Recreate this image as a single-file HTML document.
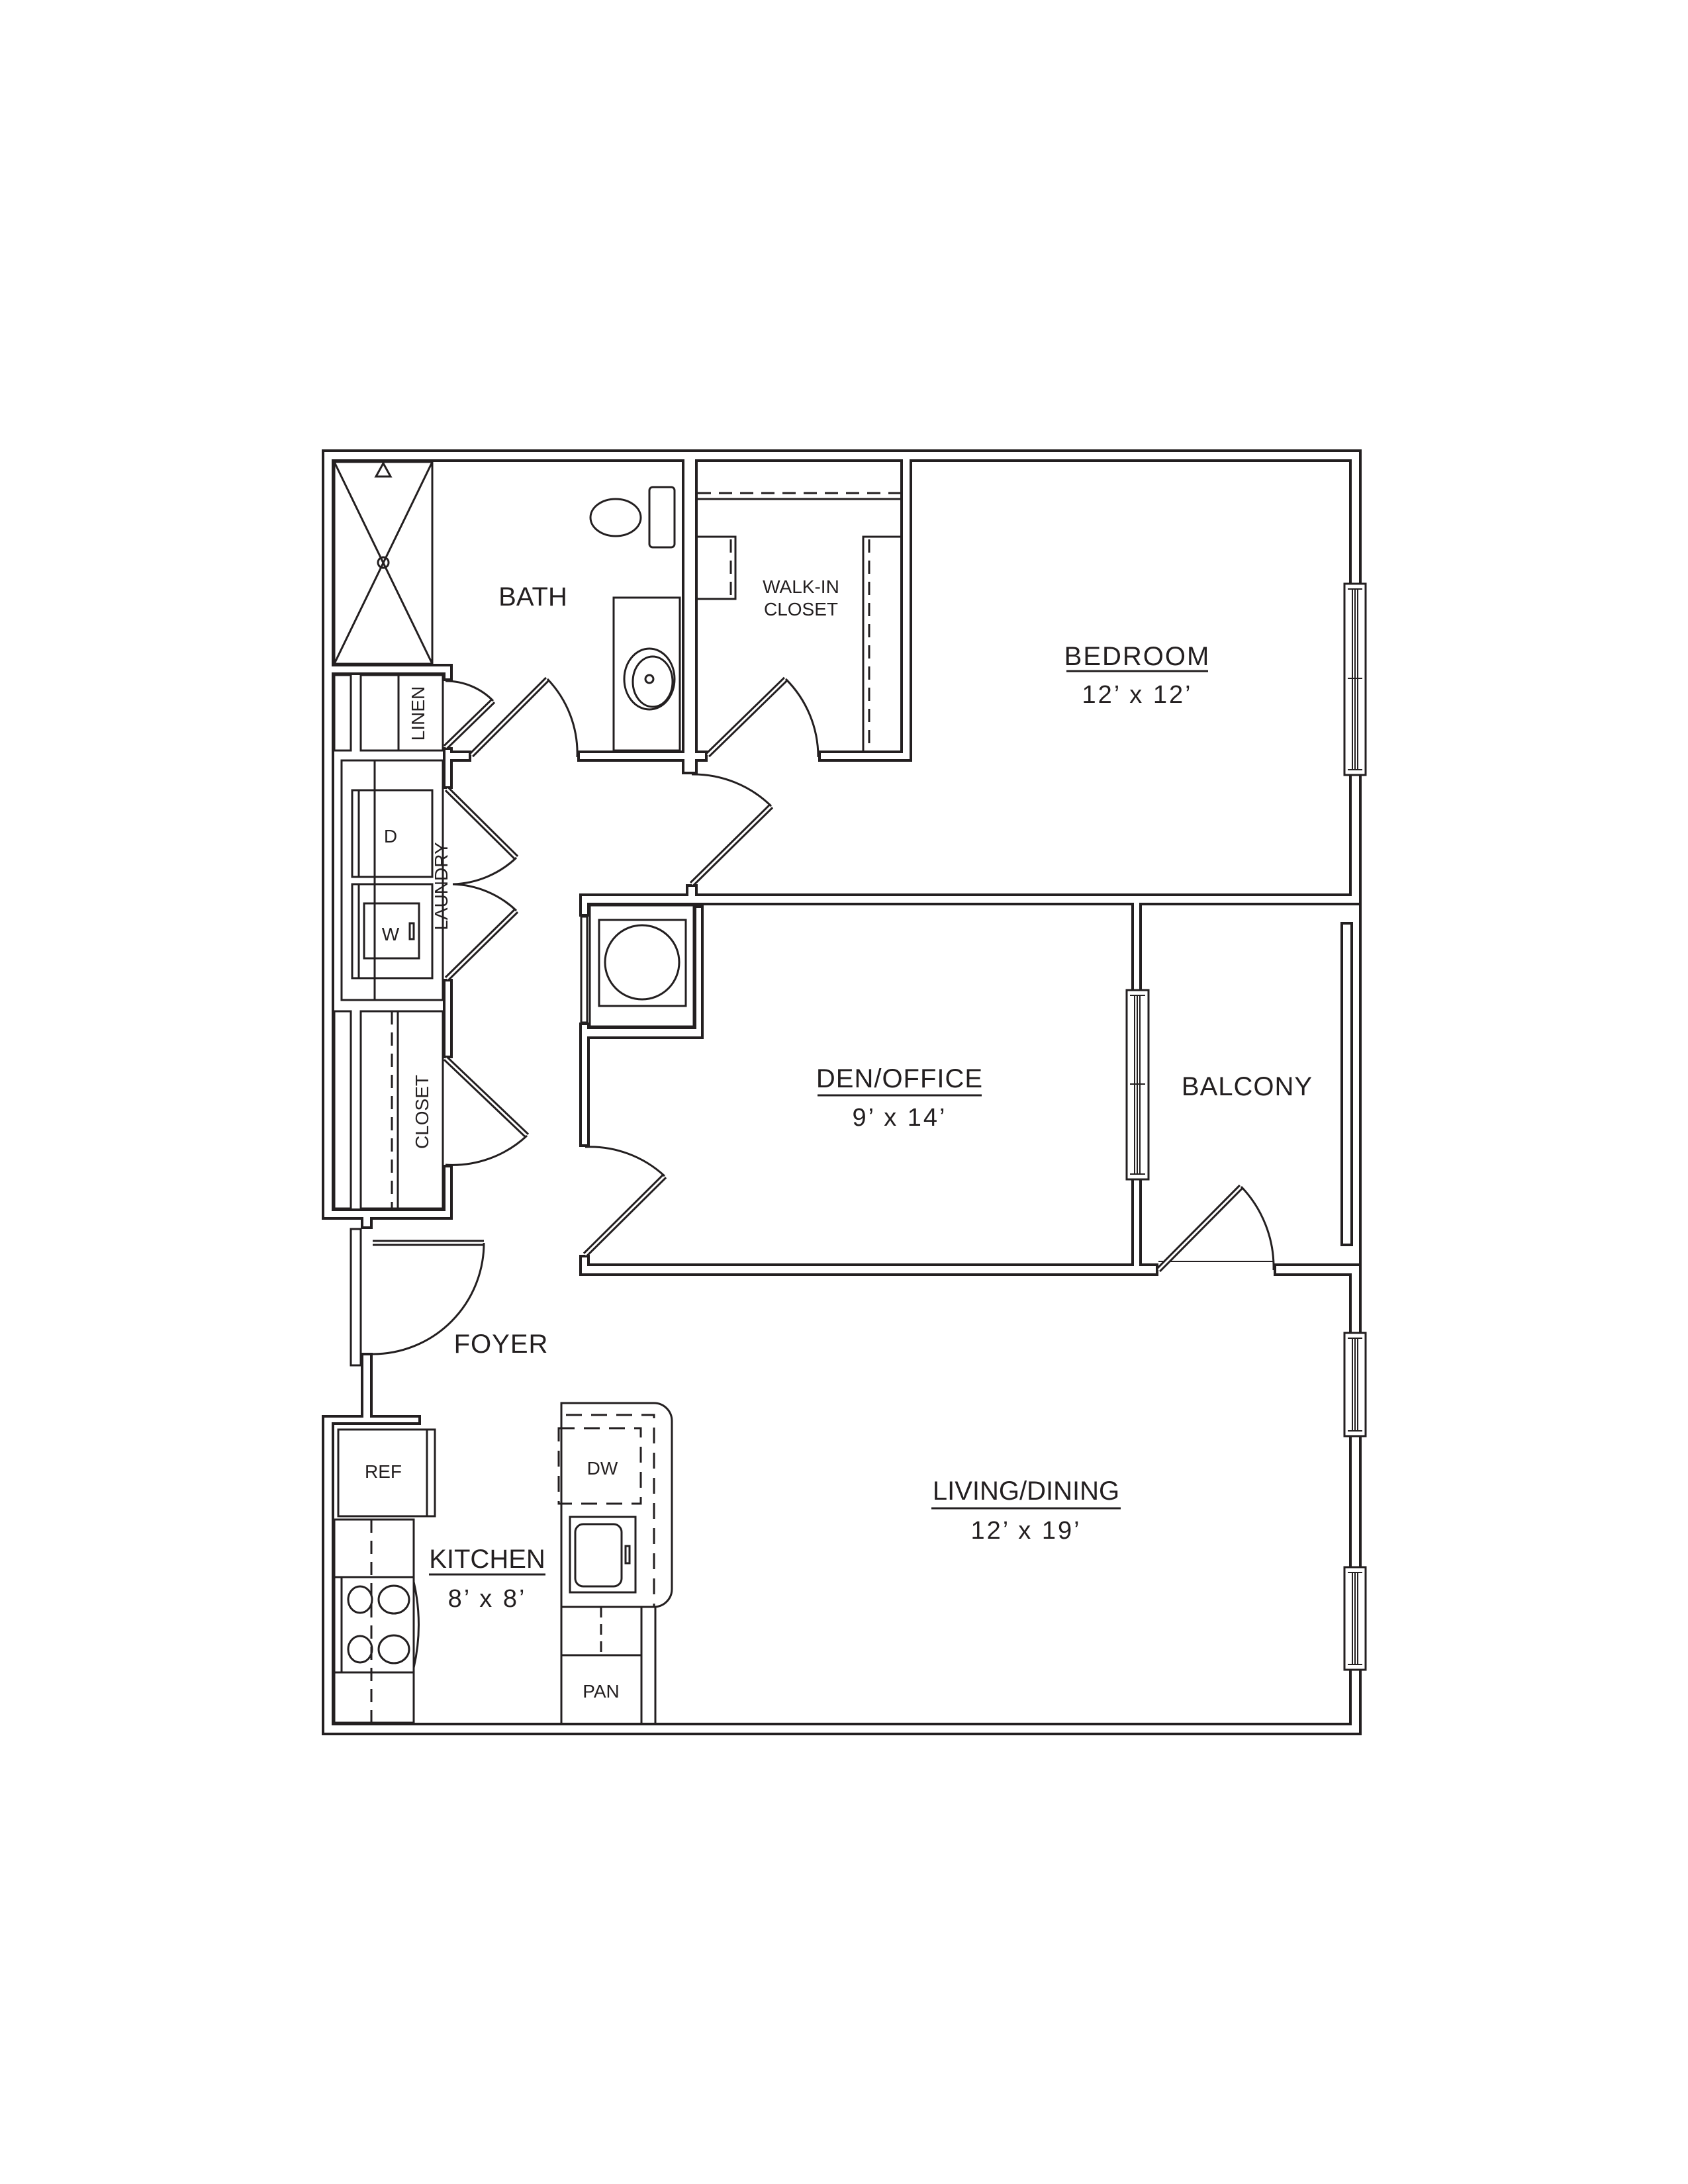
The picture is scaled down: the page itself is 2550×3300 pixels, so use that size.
<!DOCTYPE html>
<html><head><meta charset="utf-8"><style>
html,body{margin:0;padding:0;background:#fff;}
svg{display:block;}
text{font-family:"Liberation Sans",Arial,sans-serif;fill:#231f20;}
</style></head><body>
<svg width="2550" height="3300" viewBox="0 0 2550 3300" xmlns="http://www.w3.org/2000/svg">
<rect width="2550" height="3300" fill="#fff"/>
<g fill="#231f20">
<rect x="486" y="679" width="1571" height="19"/>
<rect x="486" y="679" width="19" height="1164"/>
<rect x="486" y="1826" width="198" height="17"/>
<rect x="545" y="1826" width="18" height="31"/>
<rect x="545" y="2044" width="18" height="109"/>
<rect x="486" y="2138" width="150" height="15"/>
<rect x="486" y="2138" width="19" height="484"/>
<rect x="486" y="2603" width="1571" height="19"/>
<rect x="2038" y="679" width="19" height="688"/>
<rect x="2038" y="1909" width="19" height="713"/>
<rect x="1030" y="679" width="24" height="491"/>
<rect x="1360" y="679" width="18" height="472"/>
<rect x="872" y="1134" width="158" height="17"/>
<rect x="1054" y="1134" width="15" height="17"/>
<rect x="1236" y="1134" width="142" height="17"/>
<rect x="505" y="1003" width="179" height="17"/>
<rect x="669" y="1003" width="15" height="26"/>
<rect x="669" y="1129" width="15" height="63"/>
<rect x="669" y="1134" width="43" height="17"/>
<rect x="669" y="1479" width="15" height="120"/>
<rect x="669" y="1760" width="15" height="83"/>
<rect x="1036" y="1336" width="18" height="32"/>
<rect x="875" y="1350" width="1182" height="18"/>
<rect x="875" y="1350" width="16" height="35"/>
<rect x="875" y="1545" width="16" height="188"/>
<rect x="875" y="1896" width="16" height="32"/>
<rect x="875" y="1909" width="875" height="19"/>
<rect x="1924" y="1909" width="133" height="19"/>
<rect x="1048" y="1368" width="15" height="202"/>
<rect x="891" y="1551" width="172" height="19"/>
<rect x="1709" y="1368" width="16" height="541"/>
</g>
<g fill="#fff">
<rect x="490" y="683" width="1563" height="11"/>
<rect x="490" y="683" width="11" height="1156"/>
<rect x="490" y="1830" width="190" height="9"/>
<rect x="549" y="1830" width="10" height="23"/>
<rect x="549" y="2048" width="10" height="101"/>
<rect x="490" y="2142" width="142" height="7"/>
<rect x="490" y="2142" width="11" height="476"/>
<rect x="490" y="2607" width="1563" height="11"/>
<rect x="2042" y="683" width="11" height="680"/>
<rect x="2042" y="1913" width="11" height="705"/>
<rect x="1034" y="683" width="16" height="483"/>
<rect x="1364" y="683" width="10" height="464"/>
<rect x="876" y="1138" width="158" height="9"/>
<rect x="1050" y="1138" width="15" height="9"/>
<rect x="1240" y="1138" width="134" height="9"/>
<rect x="501" y="1007" width="179" height="9"/>
<rect x="673" y="1007" width="7" height="18"/>
<rect x="673" y="1133" width="7" height="55"/>
<rect x="673" y="1138" width="35" height="9"/>
<rect x="673" y="1483" width="7" height="112"/>
<rect x="673" y="1764" width="7" height="75"/>
<rect x="1040" y="1340" width="10" height="24"/>
<rect x="879" y="1354" width="1174" height="10"/>
<rect x="879" y="1354" width="8" height="27"/>
<rect x="879" y="1549" width="8" height="180"/>
<rect x="879" y="1900" width="8" height="24"/>
<rect x="879" y="1913" width="867" height="11"/>
<rect x="1928" y="1913" width="125" height="11"/>
<rect x="1052" y="1372" width="7" height="194"/>
<rect x="887" y="1555" width="172" height="11"/>
<rect x="1713" y="1364" width="8" height="549"/>
</g>
<!-- balcony right rail -->
<line x1="2055" y1="1360" x2="2055" y2="1916" stroke="#231f20" stroke-width="4"/>
<rect x="2027" y="1395" width="15" height="486" fill="#fff" stroke="#231f20" stroke-width="4"/>

<g fill="none" stroke="#231f20" stroke-width="3">
<!-- shower -->
<rect x="505" y="698" width="148" height="305" stroke-width="3"/>
<line x1="505" y1="698" x2="653" y2="1003"/>
<line x1="653" y1="698" x2="505" y2="1003"/>
<circle cx="579" cy="850" r="8"/>
<path d="M579,700 L568,720 L590,720 Z"/>
<!-- toilet -->
<ellipse cx="930" cy="782" rx="38" ry="28"/>
<rect x="981" y="736" width="38" height="91" rx="5"/>
<!-- vanity -->
<rect x="927" y="903" width="100" height="231"/>
<ellipse cx="981" cy="1026" rx="38" ry="46"/>
<ellipse cx="986" cy="1030" rx="30" ry="38"/>
<circle cx="981" cy="1026" r="6"/>
<!-- walk-in closet -->
<line x1="1054" y1="745" x2="1360" y2="745" stroke-dasharray="20,12"/>
<line x1="1054" y1="754" x2="1360" y2="754"/>
<path d="M1054,811 H1111 V905 H1054"/>
<line x1="1104" y1="815" x2="1104" y2="905" stroke-dasharray="20,12"/>
<path d="M1360,811 H1304 V1134"/>
<line x1="1313" y1="815" x2="1313" y2="1134" stroke-dasharray="20,12"/>
<!-- linen -->
<rect x="545" y="1020" width="124" height="114"/>
<line x1="602" y1="1020" x2="602" y2="1134"/>
<rect x="505" y="1020" width="25" height="114"/>
<!-- laundry -->
<rect x="516" y="1149" width="153" height="362"/>
<line x1="566" y1="1149" x2="566" y2="1511"/>
<rect x="532" y="1194" width="121" height="131"/>
<line x1="542" y1="1194" x2="542" y2="1325"/>
<rect x="532" y="1336" width="121" height="142"/>
<line x1="542" y1="1336" x2="542" y2="1478"/>
<rect x="550" y="1365" width="83" height="83"/>
<rect x="619" y="1395" width="6" height="24"/>
<!-- closet -->
<rect x="545" y="1528" width="124" height="298"/>
<rect x="505" y="1528" width="25" height="298"/>
<line x1="592" y1="1528" x2="592" y2="1826" stroke-dasharray="20,12"/>
<line x1="601" y1="1528" x2="601" y2="1826"/>
<!-- washer closet -->
<rect x="891" y="1368" width="157" height="183"/>
<rect x="905" y="1390" width="131" height="130"/>
<circle cx="970" cy="1454" r="56"/>
<rect x="878" y="1385" width="9" height="160"/>
<!-- entry door frame -->
<rect x="530" y="1857" width="15" height="206"/>
<!-- kitchen ref -->
<rect x="511" y="2160" width="146" height="131"/>
<line x1="645" y1="2160" x2="645" y2="2291"/>
<!-- range -->
<rect x="505" y="2296" width="120" height="307"/>
<line x1="505" y1="2383" x2="625" y2="2383"/>
<line x1="505" y1="2527" x2="625" y2="2527"/>
<line x1="561" y1="2296" x2="561" y2="2603" stroke-dasharray="20,12"/>
<line x1="516" y1="2383" x2="516" y2="2527"/>
<path d="M625,2390 Q640,2455 625,2520"/>
<ellipse cx="544" cy="2417" rx="18" ry="20"/>
<ellipse cx="595" cy="2417" rx="23" ry="21"/>
<ellipse cx="544" cy="2492" rx="18" ry="20"/>
<ellipse cx="595" cy="2492" rx="23" ry="21"/>
<!-- island -->
<path d="M848,2603 V2120 H988 A27,27 0 0 1 1015,2147 V2401 A27,27 0 0 1 988,2428 H848"/>
<line x1="969" y1="2428" x2="969" y2="2603"/>
<line x1="990" y1="2428" x2="990" y2="2605"/>
<path d="M855,2138 H988 V2428" stroke-dasharray="24,14"/>
<rect x="844" y="2158" width="124" height="114" stroke-dasharray="24,14"/>
<rect x="861" y="2292" width="99" height="114"/>
<rect x="869" y="2303" width="70" height="94" rx="12"/>
<rect x="945" y="2336" width="6" height="26"/>
<line x1="848" y1="2501" x2="969" y2="2501"/>
<line x1="908" y1="2428" x2="908" y2="2501" stroke-dasharray="16,10"/>
<!-- balcony threshold -->
<line x1="1750" y1="1906" x2="1924" y2="1906" stroke-width="2"/>
</g>
<!-- windows -->
<g fill="#fff" stroke="#231f20" stroke-width="3">
<rect x="2031" y="882" width="32" height="289"/>
<rect x="1702" y="1496" width="33" height="286"/>
<rect x="2031" y="2014" width="32" height="156"/>
<rect x="2031" y="2368" width="32" height="155"/>
</g>
<g fill="none" stroke="#231f20" stroke-width="2">
<path d="M2043,890 V1163 M2047,890 V1163 M2051,890 V1163 M2036,890 H2058 M2036,1025 H2058 M2036,1163 H2058"/>
<path d="M1714,1504 V1774 M1718,1504 V1774 M1722,1504 V1774 M1707,1504 H1730 M1707,1638 H1730 M1707,1774 H1730"/>
<path d="M2043,2022 V2162 M2047,2022 V2162 M2051,2022 V2162 M2036,2022 H2058 M2036,2162 H2058"/>
<path d="M2043,2376 V2515 M2047,2376 V2515 M2051,2376 V2515 M2036,2376 H2058 M2036,2515 H2058"/>
</g>
<!-- door leaves -->
<g stroke="#231f20" stroke-width="9" stroke-linecap="butt">
<line x1="673" y1="1129" x2="745" y2="1059"/>
<line x1="712" y1="1141" x2="827" y2="1026"/>
<line x1="1069" y1="1141" x2="1187" y2="1026"/>
<line x1="1045" y1="1336" x2="1165" y2="1218"/>
<line x1="675" y1="1192" x2="780" y2="1296"/>
<line x1="675" y1="1479" x2="780" y2="1376"/>
<line x1="673" y1="1599" x2="796" y2="1716"/>
<line x1="884" y1="1896" x2="1004" y2="1777"/>
<line x1="1750" y1="1919" x2="1875" y2="1793"/>
<line x1="563" y1="1878" x2="731" y2="1878"/>
</g>
<g stroke="#fff" stroke-width="3">
<line x1="673" y1="1129" x2="745" y2="1059"/>
<line x1="712" y1="1141" x2="827" y2="1026"/>
<line x1="1069" y1="1141" x2="1187" y2="1026"/>
<line x1="1045" y1="1336" x2="1165" y2="1218"/>
<line x1="675" y1="1192" x2="780" y2="1296"/>
<line x1="675" y1="1479" x2="780" y2="1376"/>
<line x1="673" y1="1599" x2="796" y2="1716"/>
<line x1="884" y1="1896" x2="1004" y2="1777"/>
<line x1="1750" y1="1919" x2="1875" y2="1793"/>
<line x1="563" y1="1878" x2="731" y2="1878"/>
</g>
<!-- door arcs -->
<g fill="none" stroke="#231f20" stroke-width="3">
<path d="M745,1059 A100,100 0 0 0 673,1029"/>
<path d="M827,1026 A162,162 0 0 1 872,1144"/>
<path d="M1187,1026 A166,166 0 0 1 1236,1144"/>
<path d="M1165,1218 A168,168 0 0 0 1045,1170"/>
<path d="M780,1296 A146,146 0 0 1 684,1336"/>
<path d="M780,1376 A145,145 0 0 0 684,1336"/>
<path d="M796,1716 A165,165 0 0 1 673,1760"/>
<path d="M1004,1777 A166,166 0 0 0 884,1733"/>
<path d="M1875,1793 A176,176 0 0 1 1924,1919"/>
<path d="M731,1878 A168,168 0 0 1 563,2046"/>
</g>

<g text-anchor="middle">
<text x="805" y="915" font-size="40">BATH</text>
<text x="1210" y="896" font-size="28">WALK-IN</text>
<text x="1210" y="930" font-size="28">CLOSET</text>
<text x="1718" y="1005" font-size="40" letter-spacing="2">BEDROOM</text>
<text x="1718" y="1062" font-size="38" letter-spacing="3">12’ x 12’</text>
<text x="1359" y="1643" font-size="40" letter-spacing="1">DEN/OFFICE</text>
<text x="1359" y="1701" font-size="38" letter-spacing="3">9’ x 14’</text>
<text x="1884" y="1655" font-size="40" letter-spacing="1">BALCONY</text>
<text x="757" y="2044" font-size="40" letter-spacing="1">FOYER</text>
<text x="736" y="2369" font-size="40">KITCHEN</text>
<text x="736" y="2428" font-size="38" letter-spacing="3">8’ x 8’</text>
<text x="1550" y="2266" font-size="40">LIVING/DINING</text>
<text x="1550" y="2325" font-size="38" letter-spacing="3">12’ x 19’</text>
<text x="579" y="2233" font-size="28">REF</text>
<text x="910" y="2228" font-size="28">DW</text>
<text x="908" y="2565" font-size="28">PAN</text>
<text x="590" y="1273" font-size="28">D</text>
<text x="590" y="1421" font-size="28">W</text>
<text x="0" y="0" font-size="28" transform="translate(641,1078) rotate(-90)">LINEN</text>
<text x="0" y="0" font-size="28" transform="translate(676,1339) rotate(-90)">LAUNDRY</text>
<text x="0" y="0" font-size="28" transform="translate(647,1680) rotate(-90)">CLOSET</text>
</g>
<g stroke="#231f20" stroke-width="3">
<line x1="1611" y1="1014" x2="1825" y2="1014"/>
<line x1="1235" y1="1655" x2="1483" y2="1655"/>
<line x1="648" y1="2379" x2="824" y2="2379"/>
<line x1="1407" y1="2279" x2="1693" y2="2279"/>
</g>
</svg>
</body></html>
